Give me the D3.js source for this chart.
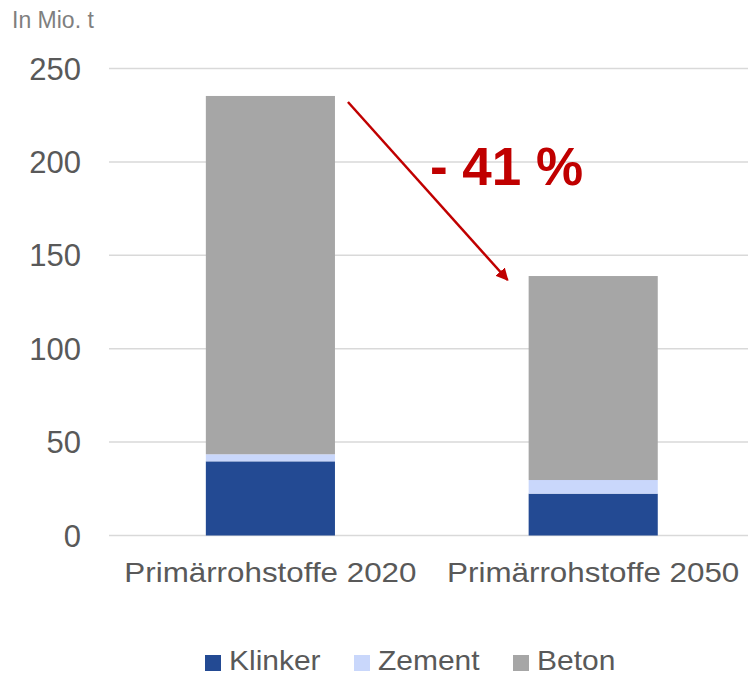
<!DOCTYPE html>
<html><head><meta charset="utf-8">
<script src="https://cdn.jsdelivr.net/npm/d3@7"></script>
<style>body{margin:0;background:#fff}svg{display:block;font-family:"Liberation Sans",Arial,sans-serif}</style>
</head><body>
<svg id="c" width="748" height="675"></svg>
<script>
const categories = ["Primärrohstoffe 2020", "Primärrohstoffe 2050"];
const seriesNames = ["Klinker", "Zement", "Beton"];
const klinker = [39.7, 22.4];
const zement = [3.8, 7.3];
const beton = [191.8, 109.2];
const colors = ["#234a93", "#c9d7fb", "#a6a6a6"];
const yTicks = [0, 50, 100, 150, 200, 250];
const unitLabel = "In Mio. t";
const changeLabel = "- 41 %";

const svg = d3.select("#c");
const y = d3.scaleLinear().domain([0, 250]).range([535.5, 68.5]);
const x = d3.scaleBand().domain(categories).range([109, 754.6]).padding(0);
const barW = x.bandwidth() * 0.4;

// gridlines
svg.append("g").selectAll("line").data(yTicks).join("line")
  .attr("x1", 109).attr("x2", 748)
  .attr("y1", d => y(d)).attr("y2", d => y(d))
  .attr("stroke", "#d9d9d9").attr("stroke-width", 1.5);

// tick labels
svg.append("g").selectAll("text").data(yTicks).join("text")
  .attr("x", 81).attr("y", d => y(d) + 11)
  .attr("text-anchor", "end").attr("font-size", 31).attr("fill", "#595959")
  .text(d => d);

svg.append("text").attr("x", 12).attr("y", 28).attr("font-size", 23)
  .attr("fill", "#7f7f7f").text(unitLabel);

// stacked data
const rows = categories.map((c, i) => ({cat: c, Klinker: klinker[i], Zement: zement[i], Beton: beton[i]}));
const stacked = d3.stack().keys(seriesNames)(rows);
svg.append("g").selectAll("g").data(stacked).join("g")
  .attr("fill", (d, i) => colors[i])
  .selectAll("rect").data(d => d).join("rect")
  .attr("x", d => x(d.data.cat) + (x.bandwidth() - barW) / 2)
  .attr("width", barW)
  .attr("y", d => y(d[1]))
  .attr("height", d => y(d[0]) - y(d[1]));

// category labels
svg.append("g").selectAll("text").data(categories).join("text")
  .attr("transform", d => `translate(${x(d) + x.bandwidth() / 2},581.5) scale(1.12,1)`)
  .attr("text-anchor", "middle").attr("font-size", 28).attr("fill", "#595959")
  .text(d => d);

// arrow
const defs = svg.append("defs");
defs.append("marker").attr("id", "ah").attr("viewBox", "0 0 10 10")
  .attr("refX", 9).attr("refY", 5).attr("markerWidth", 5).attr("markerHeight", 5)
  .attr("orient", "auto").attr("markerUnits", "strokeWidth")
  .append("path").attr("d", "M0,0 L10,5 L0,10 z").attr("fill", "#c00000");
const xA = x(categories[0]) + (x.bandwidth() + barW) / 2;
const xB = x(categories[1]) + (x.bandwidth() - barW) / 2;
const totals = rows.map(r => r.Klinker + r.Zement + r.Beton);
svg.append("line")
  .attr("x1", xA + 13).attr("y1", y(totals[0]) + 6)
  .attr("x2", xB - 21).attr("y2", y(totals[1]) + 4)
  .attr("stroke", "#c00000").attr("stroke-width", 2.5)
  .attr("marker-end", "url(#ah)");
svg.append("text").attr("x", 430).attr("y", 185)
  .attr("font-size", 53).attr("font-weight", "bold").attr("fill", "#c00000")
  .text(changeLabel);

// legend
const legX = [205, 354, 513];
const lg = svg.append("g").selectAll("g").data(seriesNames).join("g")
  .attr("transform", (d, i) => `translate(${legX[i]},655)`);
lg.append("rect").attr("width", 16).attr("height", 16).attr("fill", (d, i) => colors[i]);
lg.append("text").attr("transform", "translate(24,15) scale(1.11,1)")
  .attr("font-size", 27).attr("fill", "#595959").text(d => d);
</script>
</body></html>
